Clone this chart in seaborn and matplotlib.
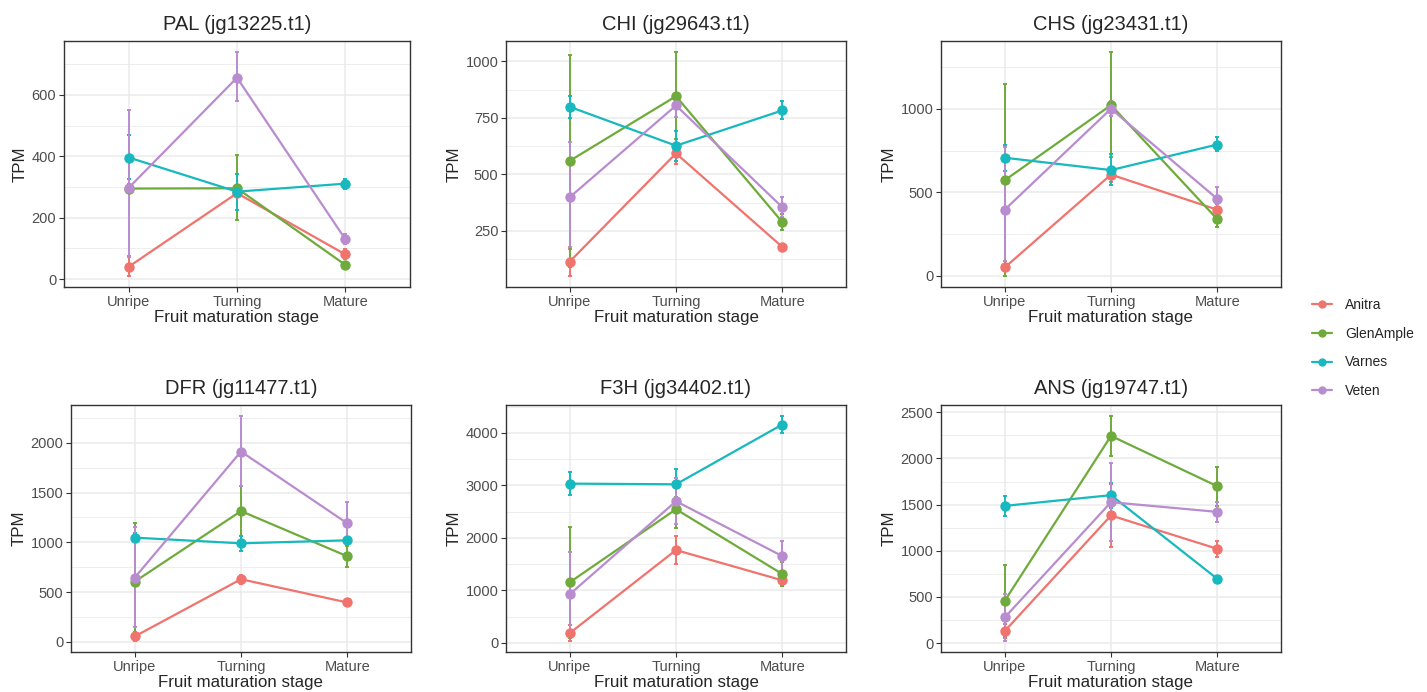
import numpy as np
import pandas as pd
import seaborn as sns
import matplotlib.pyplot as plt
from matplotlib.lines import Line2D
from matplotlib.ticker import AutoMinorLocator

stages = ['Unripe', 'Turning', 'Mature']
cultivars = ['Anitra', 'GlenAmple', 'Varnes', 'Veten']
colors = ['#F0736E', '#6FAB3C', '#17B8BE', '#B98CCF']

genes = ['PAL (jg13225.t1)', 'CHI (jg29643.t1)', 'CHS (jg23431.t1)',
         'DFR (jg11477.t1)', 'F3H (jg34402.t1)', 'ANS (jg19747.t1)']

# mean TPM, rows = cultivars (Anitra, GlenAmple, Varnes, Veten), cols = stages
pal_mean = [[41, 280, 81], [295, 296, 47], [396, 285, 311], [298, 656, 131]]
pal_lo = [[11, 266, 67], [280, 194, 40], [326, 226, 294], [72, 580, 114]]
pal_hi = [[75, 294, 97], [310, 403, 55], [468, 341, 326], [551, 739, 146]]

chi_mean = [[114, 593, 179], [560, 846, 289], [799, 627, 783], [399, 805, 355]]
chi_lo = [[51, 545, 168], [92, 656, 253], [751, 561, 744], [177, 754, 312]]
chi_hi = [[170, 640, 190], [1029, 1041, 326], [849, 692, 823], [644, 853, 399]]

chs_mean = [[50, 606, 396], [572, 1022, 339], [707, 633, 786], [396, 1000, 461]]
chs_lo = [[0, 560, 358], [0, 711, 295], [628, 543, 745], [87, 958, 390]]
chs_hi = [[91, 650, 432], [1150, 1339, 378], [786, 727, 830], [774, 1048, 533]]

dfr_mean = [[54, 629, 395], [605, 1314, 860], [1047, 990, 1020], [645, 1913, 1191]]
dfr_lo = [[10, 585, 380], [17, 1064, 753], [1000, 913, 980], [144, 1565, 983]]
dfr_hi = [[100, 669, 410], [1194, 1565, 960], [1094, 1060, 1054], [1154, 2268, 1405]]

f3h_mean = [[184, 1766, 1190], [1152, 2544, 1310], [3032, 3019, 4158], [924, 2696, 1652]]
f3h_lo = [[38, 1500, 1082], [89, 2196, 1082], [2823, 2715, 4000], [120, 2259, 1373]]
f3h_hi = [[329, 2038, 1291], [2209, 2778, 1544], [3247, 3316, 4316], [1734, 3146, 1930]]

ans_mean = [[130, 1382, 1021], [458, 2244, 1699], [1486, 1602, 696], [278, 1526, 1421]]
ans_lo = [[51, 1040, 934], [61, 2027, 1486], [1371, 1468, 680], [25, 1108, 1306]]
ans_hi = [[206, 1720, 1108], [848, 2457, 1912], [1598, 1739, 712], [530, 1948, 1533]]

yticks = [[0, 200, 400, 600], [250, 500, 750, 1000], [0, 500, 1000],
          [0, 500, 1000, 1500, 2000], [0, 1000, 2000, 3000, 4000],
          [0, 500, 1000, 1500, 2000, 2500]]

means = [pal_mean, chi_mean, chs_mean, dfr_mean, f3h_mean, ans_mean]
lows = [pal_lo, chi_lo, chs_lo, dfr_lo, f3h_lo, ans_lo]
highs = [pal_hi, chi_hi, chs_hi, dfr_hi, f3h_hi, ans_hi]

sns.set_style('whitegrid')
plt.rcParams['font.family'] = ['Liberation Sans', 'DejaVu Sans']

W, H = 1427, 692
fig = plt.figure(figsize=(W / 100, H / 100), dpi=100)

# axes boxes in pixels: left, top, right, bottom
boxes = [(64, 41, 410, 287), (506, 41, 846, 287), (941, 41, 1281, 287),
         (71, 405, 411, 652), (506, 405, 846, 652), (941, 405, 1281, 652)]

for g, gene in enumerate(genes):
    l, t, r, b = boxes[g]
    ax = fig.add_axes([l / W, (H - b) / H, (r - l) / W, (b - t) / H])
    rows = []
    for c, cv in enumerate(cultivars):
        for s, st in enumerate(stages):
            rows.append({'stage': st, 'cultivar': cv, 'TPM': means[g][c][s],
                         'lo': lows[g][c][s], 'hi': highs[g][c][s]})
    df = pd.DataFrame(rows)

    # error bars first, then lines + points on top
    for c, cv in enumerate(cultivars):
        d = df[df['cultivar'] == cv]
        x = np.arange(len(stages))
        ax.errorbar(x, d['TPM'], yerr=[d['TPM'] - d['lo'], d['hi'] - d['TPM']],
                    fmt='none', ecolor=colors[c], elinewidth=1.4, capsize=1.5,
                    capthick=1.4, zorder=2)
    df['x'] = df['stage'].map({s: i for i, s in enumerate(stages)})
    sns.lineplot(data=df, x='x', y='TPM', hue='cultivar', palette=colors,
                 marker='o', markersize=7.5, markeredgewidth=0, linewidth=1.6,
                 legend=False, ax=ax, zorder=3)

    ax.set_xlim(-0.6, 2.6)
    ax.margins(y=0.05)
    ax.set_xticks(range(len(stages)))
    ax.set_xticklabels(stages)
    ax.set_yticks(yticks[g])
    ax.yaxis.set_minor_locator(AutoMinorLocator(2))
    ax.grid(which='major', color='#EBEBEB', linewidth=1.1)
    ax.grid(which='minor', axis='y', color='#EBEBEB', linewidth=0.6)
    ax.set_axisbelow(True)
    for sp in ax.spines.values():
        sp.set_color('#333333')
        sp.set_linewidth(1.0)
    ax.tick_params(which='major', axis='both', length=3.5, width=0.8,
                   color='#333333', labelcolor='#4D4D4D', labelsize=10.5, pad=2,
                   direction='out', bottom=True, left=True)
    ax.tick_params(which='minor', length=0)
    ax.set_title(gene, fontsize=14.5, pad=8)
    ax.set_xlabel('Fruit maturation stage', fontsize=12.2, labelpad=1)
    ax.set_ylabel('TPM', fontsize=12.2, labelpad=3)

handles = [Line2D([0], [0], color=colors[c], marker='o', markersize=6,
                  markeredgewidth=0, linewidth=1.6) for c in range(len(cultivars))]
fig.legend(handles, cultivars, loc='center left', bbox_to_anchor=(1299 / W, 0.497),
           frameon=False, fontsize=10, handlelength=1.5, labelspacing=1.05,
           handletextpad=0.9)

fig.savefig('out.png', dpi=100)
